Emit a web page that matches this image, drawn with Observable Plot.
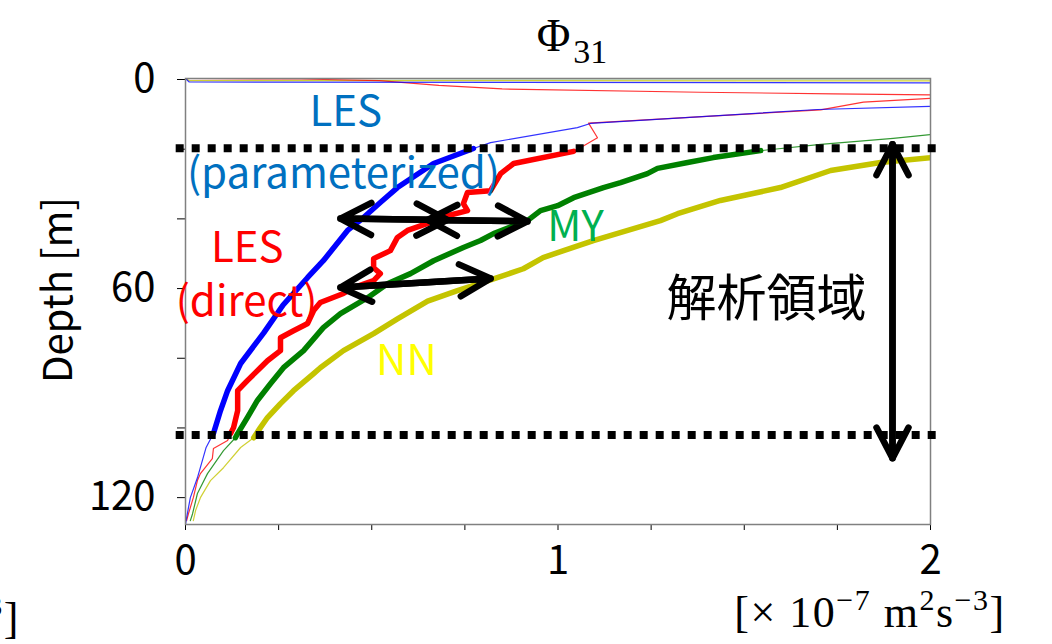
<!DOCTYPE html>
<html>
<head>
<meta charset="utf-8">
<script src="https://cdn.jsdelivr.net/npm/d3@7"></script>
<script src="https://cdn.jsdelivr.net/npm/@observablehq/plot@0.6"></script>
<style>
  body { margin: 0; background: #fff; }
  #chart { width: 1052px; height: 644px; }
</style>
</head>
<body>
<div id="chart"></div>
<script>
// Φ31 profiles: value in units of 1e-7 m² s⁻³ against depth in metres.

// LES (parameterized)
const lesParamValue = [0.000, 0.010, 5.000, 2.000, 1.697, 1.087, 1.052, 0.819, 0.773, 0.666, 0.569, 0.523, 0.478, 0.435, 0.370, 0.328, 0.262, 0.210, 0.148, 0.113, 0.094, 0.075, 0.055, 0.032, 0.013, 0.003, 0.000];
const lesParamDepth = [0, 1.0, 1.6, 8.0, 8.9, 12.9, 14.1, 18.4, 20.1, 24.4, 31.3, 35.6, 39.9, 43.6, 52.3, 57.1, 65.0, 73.0, 81.8, 89.6, 95.3, 101.9, 106.0, 114.6, 120.3, 126.0, 128.0];

// LES (direct)
const lesDirectValue = [0.000, 0.310, 0.520, 0.680, 0.850, 1.380, 1.740, 2.000, 2.300, 2.000, 1.820, 1.705, 1.082, 1.106, 1.060, 1.042, 0.881, 0.864, 0.846, 0.819, 0.757, 0.746, 0.757, 0.685, 0.650, 0.596, 0.569, 0.550, 0.505, 0.505, 0.523, 0.505, 0.451, 0.424, 0.362, 0.344, 0.328, 0.290, 0.255, 0.255, 0.220, 0.201, 0.166, 0.140, 0.140, 0.129, 0.121, 0.113, 0.075, 0.072, 0.040, 0.032, 0.021, 0.008, 0.003];
const lesDirectDepth = [0, 0.15, 0.6, 2.0, 3.0, 3.95, 4.4, 4.7, 5.2, 5.7, 6.8, 9.0, 12.8, 17.0, 19.9, 20.9, 24.4, 25.8, 27.3, 32.2, 32.7, 35.9, 37.9, 39.9, 41.6, 43.6, 45.6, 49.4, 51.7, 54.3, 56.0, 58.0, 60.0, 61.7, 64.3, 66.6, 70.3, 72.4, 74.4, 78.1, 81.0, 83.0, 86.7, 89.6, 95.3, 100.2, 101.9, 103.9, 106.2, 109.1, 113.4, 115.4, 120.3, 124.9, 126.9];

// MY
const myValue = [0.000, 6.000, 2.300, 2.000, 1.900, 1.705, 1.544, 1.417, 1.348, 1.267, 1.240, 1.168, 1.122, 1.042, 0.999, 0.953, 0.918, 0.827, 0.792, 0.746, 0.666, 0.604, 0.542, 0.489, 0.416, 0.370, 0.317, 0.263, 0.228, 0.193, 0.166, 0.140, 0.134, 0.102, 0.059, 0.032, 0.019, 0.013];
const myDepth = [0, 0.2, 15.5, 16.1, 17.2, 18.9, 20.7, 22.7, 24.1, 25.8, 27.3, 29.9, 31.3, 34.2, 36.5, 37.9, 40.8, 44.5, 46.5, 48.5, 52.3, 56.0, 58.9, 62.9, 67.5, 71.5, 78.1, 83.0, 87.6, 92.4, 97.3, 101.9, 103.1, 106.8, 113.4, 119.1, 124.9, 126.9];

// NN
const nnValue = [0.000, 0.010, 8.000, 2.400, 2.000, 1.866, 1.732, 1.597, 1.436, 1.321, 1.275, 1.095, 1.015, 0.960, 0.907, 0.819, 0.730, 0.650, 0.569, 0.505, 0.424, 0.362, 0.344, 0.290, 0.255, 0.220, 0.201, 0.183, 0.148, 0.102, 0.067, 0.040, 0.027, 0.021];
const nnDepth = [0, 0.6, 0.9, 21.0, 22.7, 24.1, 26.4, 31.3, 35.0, 38.8, 40.8, 46.5, 49.4, 51.4, 54.6, 57.8, 60.9, 63.9, 69.0, 73.2, 78.1, 83.0, 84.7, 89.6, 93.3, 97.3, 100.2, 103.1, 105.9, 111.7, 115.4, 120.3, 124.0, 126.9];

const seriesNames = ["MY", "NN", "LES (direct)", "LES (parameterized)"];
const seriesColors = ["#008000", "#c4c400", "#ff0000", "#0000ff"];

// analysis region bounds (depth, m)
const analysisBounds = [20, 102.3];

// axis ticks
const xTicks = d3.range(0, 2.01, 0.25);
const xTickLabels = [0, 1, 2];
const yTicks = d3.range(0, 121, 20);
const yTickLabels = [0, 60, 120];

// comparison arrows between profiles (value, depth)
const compareArrows = [
  {x1: 0.416, y1: 40.2, x2: 0.703, y2: 40.6},
  {x1: 0.650, y1: 40.6, x2: 0.918, y2: 41.0},
  {x1: 0.416, y1: 60.0, x2: 0.819, y2: 57.4}
];
const regionArrow = [{x1: 1.898, y1: 18.9, x2: 1.898, y2: 109.0}];

// curve labels anchored at (value, depth)
const curveLabels = [
  {key: "param", text: "LES", v: 0.430, d: 9.8},
  {key: "param", text: "(parameterized)", v: 0.424, d: 27.5},
  {key: "direct", text: "LES", v: 0.166, d: 48.8},
  {key: "direct", text: "(direct)", v: 0.164, d: 64.3},
  {key: "my", text: "MY", v: 1.047, d: 42.8},
  {key: "nn", text: "NN", v: 0.593, d: 81.3},
  {key: "region", text: "解析領域", v: 1.56, d: 63.5}
];
const labelColor = {param: "#0070c0", direct: "#ff0000", my: "#00b050", nn: "#ffff00", region: "#000000"};
const labelSize = {param: 42, direct: 42, my: 42, nn: 42, region: 50};

// build rows
const rows = [];
[[myValue, myDepth, "MY"], [nnValue, nnDepth, "NN"],
 [lesDirectValue, lesDirectDepth, "LES (direct)"],
 [lesParamValue, lesParamDepth, "LES (parameterized)"]].forEach(([vs, ds, name]) => {
  vs.forEach((v, i) => rows.push({series: name, v, d: ds[i]}));
});
const inRegion = rows.filter(r => r.d >= analysisBounds[0] && r.d <= analysisBounds[1] + 1);

const sans = "'Noto Sans CJK JP', 'Noto Sans', sans-serif";
const serif = "'Liberation Serif', 'DejaVu Serif', serif";

const plot = Plot.plot({
  width: 1052,
  height: 644,
  marginLeft: 185,
  marginRight: 122,
  marginTop: 78,
  marginBottom: 120,
  style: {fontFamily: sans, fontSize: "40px", background: "#fff", color: "#000"},
  x: {domain: [0, 2]},
  y: {domain: [0, 128], reverse: true},
  color: {domain: seriesNames, range: seriesColors},
  marks: [
    Plot.axisX({ticks: xTicks, tickFormat: d => xTickLabels.includes(d) ? d : "", tickSize: 6, tickPadding: 15, fontSize: 40, label: null}),
    Plot.axisY({ticks: yTicks, tickFormat: d => yTickLabels.includes(d) ? d : "", tickSize: 8, tickPadding: 22, fontSize: 40, label: null, dy: 1}),
    // full profiles (thin)
    Plot.line(rows, {x: "v", y: "d", z: "series", stroke: "series", strokeWidth: 1.2, strokeOpacity: 0.8, clip: true}),
    // analysis-region part (thick)
    Plot.line(inRegion, {x: "v", y: "d", z: "series", stroke: "series", strokeWidth: 5.5, clip: true, strokeLinejoin: "round"}),
    Plot.frame({stroke: "#808080", strokeWidth: 1.5}),
    // analysis region bounds
    Plot.ruleY(analysisBounds, {x1: -0.025, x2: 2.02, stroke: "#000", strokeWidth: 8, strokeDasharray: "8,8"}),
    // double-headed arrows
    Plot.arrow(compareArrows, {x1: "x1", y1: "y1", x2: "x2", y2: "y2", stroke: "#000", strokeWidth: 6.5, headAngle: 55, strokeLinecap: "round"}),
    Plot.arrow(compareArrows, {x1: "x2", y1: "y2", x2: "x1", y2: "y1", stroke: "#000", strokeWidth: 6.5, headAngle: 55, strokeLinecap: "round"}),
    Plot.arrow(regionArrow, {x1: "x1", y1: "y1", x2: "x2", y2: "y2", stroke: "#000", strokeWidth: 6.5, headAngle: 55, strokeLinecap: "round"}),
    Plot.arrow(regionArrow, {x1: "x2", y1: "y2", x2: "x1", y2: "y1", stroke: "#000", strokeWidth: 6.5, headAngle: 55, strokeLinecap: "round"}),
    // curve labels
    ...curveLabels.map(l => Plot.text([l], {x: "v", y: "d", text: "text", fill: labelColor[l.key], fontSize: labelSize[l.key], fontFamily: sans}))
  ]
});

const svg = d3.select(plot);

// title Φ31
const title = svg.append("text")
  .attr("x", 572).attr("y", 51)
  .attr("text-anchor", "middle")
  .style("font-family", serif)
  .style("font-size", "46px")
  .attr("fill", "#000");
title.append("tspan").text("Φ");
title.append("tspan").attr("dy", 12).attr("dx", 3).style("font-size", "34px").text("31");

// y-axis title
svg.append("text")
  .attr("transform", "translate(72,290) rotate(-90)")
  .attr("text-anchor", "middle")
  .style("font-family", sans)
  .style("font-size", "40px")
  .attr("fill", "#000")
  .text("Depth [m]");

// unit label under the x axis
function unitLabel(x, y, anchor) {
  const t = svg.append("text")
    .attr("x", x).attr("y", y)
    .attr("text-anchor", anchor)
    .style("font-family", serif)
    .style("font-size", "44px")
    .style("letter-spacing", "1.5px")
    .attr("fill", "#000");
  t.append("tspan").text("[× 10");
  t.append("tspan").attr("dy", -17).style("font-size", "30px").text("−7");
  t.append("tspan").attr("dy", 17).text(" m");
  t.append("tspan").attr("dy", -17).style("font-size", "30px").text("2");
  t.append("tspan").attr("dy", 17).text("s");
  t.append("tspan").attr("dy", -17).style("font-size", "30px").text("−3");
  t.append("tspan").attr("dy", 17).text("]");
}
unitLabel(870, 627, "middle");
unitLabel(20, 633, "end");

document.getElementById("chart").appendChild(plot);
</script>
</body>
</html>
